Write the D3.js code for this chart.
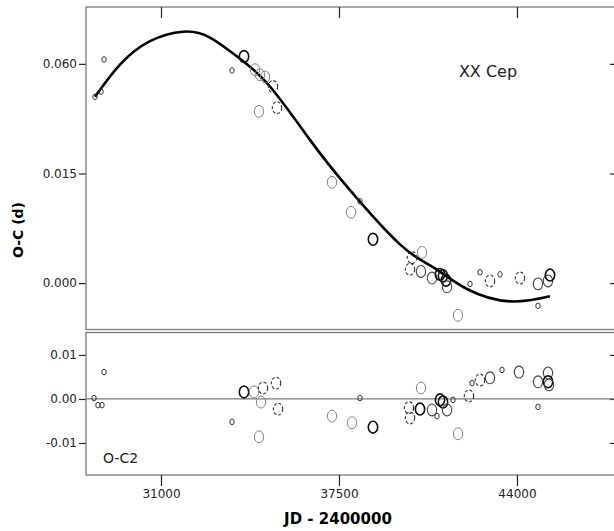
<!DOCTYPE html>
<html>
<head>
<meta charset="utf-8">
<script src="https://cdn.jsdelivr.net/npm/d3@7"></script>
<style>
  body { margin: 0; background: #fff; }
  svg text { font-family: "DejaVu Sans", sans-serif; }
</style>
</head>
<body>
<svg id="chart" width="614" height="531"></svg>
<script>
// fitted curve (JD - 2400000, O-C in days)
const fitJD = [28590, 29503, 30598, 31803, 32789, 33885, 34981, 36441, 37793, 39728, 40933, 42175, 43746, 45207];
const fitOC = [0.0255, 0.0299, 0.0331, 0.0344, 0.0336, 0.0307, 0.0269, 0.0196, 0.0132, 0.0053, 0.0022, -0.0008, -0.0025, -0.0018];

// O-C observations; kind: s = small, g = grey, d = dashed, b = bold, n = normal
const ocJD = [28590, 28809, 28919, 33593, 34031, 34433, 34615, 34798, 35090, 35236, 34579,
  37245, 38267, 37939, 38742, 40094, 40166, 40532, 40495, 40897, 41299, 41189, 41408, 41445,
  41847, 42285, 42650, 43015, 43380, 44111, 44768, 44768, 45133, 45207];
const ocVal = [0.0255, 0.0262, 0.0306, 0.0291, 0.0310, 0.0292, 0.0285, 0.0282, 0.0269, 0.0240, 0.0235,
  0.0138, 0.0112, 0.0097, 0.0060, 0.0019, 0.0035, 0.0042, 0.0016, 0.0007, 0.0010, 0.0012, 0.0004, -0.0005,
  -0.0044, -0.0001, 0.0015, 0.0003, 0.0012, 0.0007, -0.0001, -0.0031, 0.0003, 0.0011];
const ocKind = ["s", "s", "s", "s", "b", "g", "g", "g", "d", "d", "g",
  "g", "s", "g", "b", "d", "d", "g", "n", "n", "b", "b", "b", "n",
  "g", "s", "s", "d", "s", "d", "n", "s", "n", "b"];

// O-C2 residuals
const o2JD = [28919, 28553, 28699, 28845, 33593, 34031, 34396, 34652, 34725, 35200, 35273, 34579,
  37245, 38267, 37975, 38742, 40495, 40057, 40094, 40459, 40897, 41080, 41299, 41189, 41445, 41664,
  41847, 42248, 42358, 42650, 43015, 43453, 44074, 44768, 44768, 45133, 45133, 45170];
const o2Val = [0.0061, 0.0002, -0.0014, -0.0014, -0.0052, 0.0016, 0.0016, -0.0007, 0.0025, 0.0036, -0.0023, -0.0086,
  -0.0039, 0.0002, -0.0054, -0.0064, 0.0025, -0.0020, -0.0043, -0.0023, -0.0025, -0.0039, -0.0007, -0.0002, -0.0025, -0.0002,
  -0.0079, 0.0007, 0.0036, 0.0043, 0.0048, 0.0066, 0.0061, 0.0039, -0.0018, 0.0059, 0.0039, 0.0032];
const o2Kind = ["s", "s", "s", "s", "s", "b", "g", "g", "d", "d", "d", "g",
  "g", "s", "g", "b", "g", "d", "d", "b", "n", "s", "b", "b", "n", "s",
  "g", "d", "s", "d", "n", "s", "n", "n", "s", "n", "b", "n"];

const xTicks = [31000, 37500, 44000];
const topTicks = [0.000, 0.015, 0.030];
const topTickLabels = ["0.000", "0.015", "0.060"];
const botTicks = [-0.01, 0.00, 0.01];
const botTickLabels = ["-0.01", "0.00", "0.01"];

const svg = d3.select("#chart");
const left = 86, right = 618;

const x = d3.scaleLinear().domain([28261, 47690]).range([left, right]);
const yTop = d3.scaleLinear().domain([-0.00641, 0.03778]).range([330, 7]);
const yBot = d3.scaleLinear().domain([-0.01727, 0.01521]).range([475, 332]);

const kindR = d3.scaleOrdinal().domain(["s", "g", "d", "b", "n"]).range([2.6, 5.5, 5.5, 5.5, 5.5]);
const kindStroke = d3.scaleOrdinal().domain(["s", "g", "d", "b", "n"]).range(["#333", "#808080", "#333", "#111", "#444"]);
const kindWidth = d3.scaleOrdinal().domain(["s", "g", "d", "b", "n"]).range([1, 1, 1.1, 1.6, 1.1]);
const kindDash = d3.scaleOrdinal().domain(["s", "g", "d", "b", "n"]).range([null, null, "3,2", null, null]);

const frame = "#7a7a7a";

function panel(y, yTop0, yBot0, ticks, labels) {
  const g = svg.append("g");
  // left axis
  g.append("g")
    .attr("transform", `translate(${left},0)`)
    .call(d3.axisLeft(y).tickValues(ticks).tickSize(7).tickPadding(2)
      .tickFormat((d, i) => labels[i]))
    .call(a => a.select(".domain").remove());
  // right axis, inner ticks
  g.append("g")
    .attr("transform", `translate(${right},0)`)
    .call(d3.axisRight(y).tickValues(ticks).tickSize(-8).tickFormat(""))
    .call(a => a.select(".domain").remove());
  g.selectAll(".tick line").attr("stroke", "#222").attr("stroke-width", 1.2);
  g.selectAll(".tick text").attr("font-size", 12).attr("fill", "#222");
  // frame
  g.append("rect")
    .attr("x", left).attr("y", yTop0)
    .attr("width", right - left).attr("height", yBot0 - yTop0)
    .attr("fill", "none").attr("stroke", frame).attr("stroke-width", 1.3);
  return g;
}

const gTop = panel(yTop, 7, 329.5, topTicks, topTickLabels);
const gBot = panel(yBot, 332.5, 475, botTicks, botTickLabels);

// x ticks: inner at top of upper panel, outer below lower panel
svg.append("g")
  .attr("transform", "translate(0,7)")
  .call(d3.axisBottom(x).tickValues(xTicks).tickSize(11).tickFormat(""))
  .call(a => a.select(".domain").remove())
  .selectAll(".tick line").attr("stroke", "#222").attr("stroke-width", 1.2);

const xb = svg.append("g")
  .attr("transform", "translate(0,475)")
  .call(d3.axisBottom(x).tickValues(xTicks).tickSize(11).tickPadding(3).tickFormat(d3.format("d")))
  .call(a => a.select(".domain").remove());
xb.selectAll(".tick line").attr("stroke", "#222").attr("stroke-width", 1.2);
xb.selectAll(".tick text").attr("font-size", 12).attr("fill", "#222");

// zero line in residual panel
gBot.append("line")
  .attr("x1", left).attr("x2", right)
  .attr("y1", yBot(0)).attr("y2", yBot(0))
  .attr("stroke", frame).attr("stroke-width", 1.3);

// fitted curve
const fit = fitJD.map((d, i) => [d, fitOC[i]]);
gTop.append("path")
  .datum(fit)
  .attr("fill", "none")
  .attr("stroke", "#000")
  .attr("stroke-width", 2.6)
  .attr("d", d3.line().x(d => x(d[0])).y(d => yTop(d[1])).curve(d3.curveNatural));

function dots(g, jd, val, kind, y) {
  const data = jd.map((d, i) => ({jd: d, v: val[i], k: kind[i]}));
  g.selectAll(null)
    .data(data)
    .enter().append("ellipse")
    .attr("cx", d => x(d.jd))
    .attr("cy", d => y(d.v))
    .attr("rx", d => kindR(d.k) * 0.85)
    .attr("ry", d => kindR(d.k) * 1.08)
    .attr("fill", "none")
    .attr("stroke", d => kindStroke(d.k))
    .attr("stroke-width", d => kindWidth(d.k))
    .attr("stroke-dasharray", d => kindDash(d.k));
}

dots(gTop, ocJD, ocVal, ocKind, yTop);
dots(gBot, o2JD, o2Val, o2Kind, yBot);

// labels
svg.append("text")
  .attr("x", 488).attr("y", 77)
  .attr("text-anchor", "middle")
  .attr("font-size", 16)
  .attr("fill", "#222")
  .text("XX Cep");

svg.append("text")
  .attr("x", 103).attr("y", 463)
  .attr("font-size", 14)
  .attr("fill", "#222")
  .text("O-C2");

svg.append("text")
  .attr("transform", "translate(23,230) rotate(-90)")
  .attr("text-anchor", "middle")
  .attr("font-family", "Liberation Sans, Arial, sans-serif")
  .attr("font-weight", "bold")
  .attr("font-size", 14)
  .text("O-C (d)");

svg.append("text")
  .attr("x", 338).attr("y", 524)
  .attr("text-anchor", "middle")
  .attr("font-family", "Liberation Sans, Arial, sans-serif")
  .attr("font-weight", "bold")
  .attr("font-size", 15)
  .text("JD - 2400000");
</script>
</body>
</html>
